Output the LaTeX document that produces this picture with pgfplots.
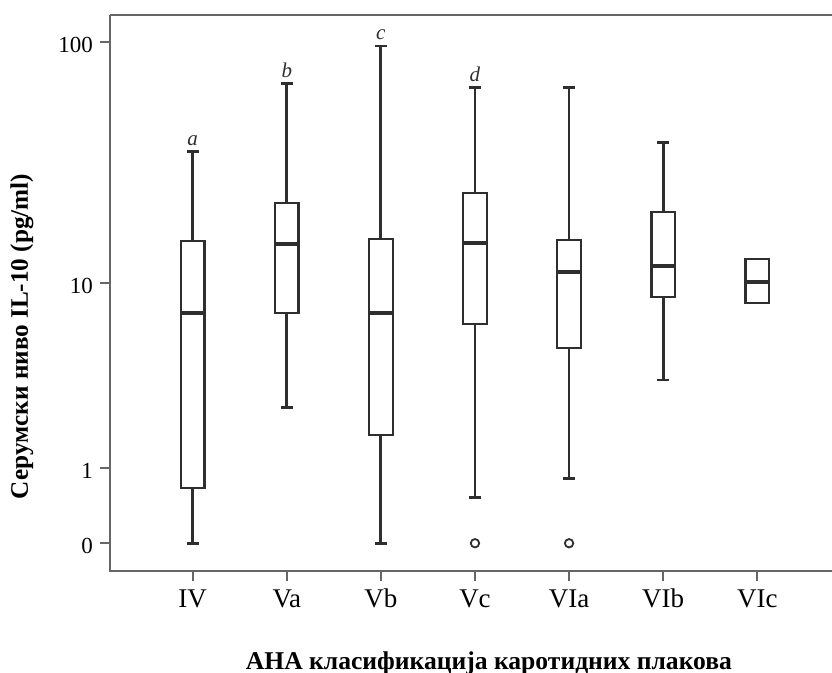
\documentclass[border=0pt]{standalone}
\usepackage{fontspec}
\setmainfont{Liberation Serif}
\usepackage{pgfplots}
\pgfplotsset{compat=1.18}
\usepgfplotslibrary{statistics}
\definecolor{ink}{HTML}{2E2E2E}
\definecolor{framec}{HTML}{666666}
\begin{document}
\begin{tikzpicture}
\begin{axis}[
  at={(0,0)}, anchor=south west,
  scale only axis, width=361pt, height=277.75pt,
  xmin=0.121, xmax=7.794, ymin=-0.111, ymax=2.111,
  axis line style={draw=none},
  xtick={1,2,3,4,5,6,7}, xticklabels={IV,Va,Vb,Vc,VIa,VIb,VIc},
  ytick={0,0.30103,1.04139,2.00432}, yticklabels={0,1,10,100},
  tick align=outside, major tick length=5pt,
  xtick pos=left, ytick pos=left,
  tick style={framec, line width=0.9pt},
  x tick label style={font=\fontsize{13.5}{15}\selectfont, text height=9.5pt, text depth=0pt},
  y tick label style={font=\fontsize{11.5}{13}\selectfont, yshift=-1.5pt},
  boxplot/draw direction=y,
  boxplot/box extend=0.25, boxplot/whisker extend=0.125,
  boxplot/every box/.style={draw=ink, line width=1.1pt, fill=white},
  boxplot/every median/.style={draw=ink, line width=2pt},
  boxplot/every whisker/.style={draw=ink, line width=1.4pt},
  clip=false,
]
\addplot[ink, boxplot prepared={draw position=1, lower whisker=0, lower quartile=0.222, median=0.922, upper quartile=1.210, upper whisker=1.566}] coordinates {};
\addplot[ink, boxplot prepared={draw position=2, lower whisker=0.542, lower quartile=0.920, median=1.196, upper quartile=1.362, upper whisker=1.840}] coordinates {};
\addplot[ink, boxplot prepared={draw position=3, lower whisker=0, lower quartile=0.433, median=0.920, upper quartile=1.217, upper whisker=1.989}] coordinates {};
\addplot[ink, mark=o, mark size=2.1pt, mark options={draw=ink, line width=0.9pt}, boxplot prepared={draw position=4, lower whisker=0.182, lower quartile=0.877, median=1.200, upper quartile=1.400, upper whisker=1.824}] coordinates {(0,0)};
\addplot[ink, mark=o, mark size=2.1pt, mark options={draw=ink, line width=0.9pt}, boxplot prepared={draw position=5, lower whisker=0.260, lower quartile=0.780, median=1.086, upper quartile=1.213, upper whisker=1.824}] coordinates {(0,0)};
\addplot[ink, boxplot prepared={draw position=6, lower whisker=0.653, lower quartile=0.986, median=1.109, upper quartile=1.324, upper whisker=1.602}] coordinates {};
\addplot[ink, boxplot prepared={draw position=7, lower whisker=0.960, lower quartile=0.960, median=1.046, upper quartile=1.136, upper whisker=1.136, every whisker/.style={draw=none}}] coordinates {};
\node[anchor=base, yshift=3pt, font=\itshape\fontsize{10.5}{12}\selectfont, text=ink] at (axis cs:1,1.566) {a};
\node[anchor=base, yshift=3pt, font=\itshape\fontsize{10.5}{12}\selectfont, text=ink] at (axis cs:2,1.840) {b};
\node[anchor=base, yshift=3pt, font=\itshape\fontsize{10.5}{12}\selectfont, text=ink] at (axis cs:3,1.989) {c};
\node[anchor=base, yshift=3pt, font=\itshape\fontsize{10.5}{12}\selectfont, text=ink] at (axis cs:4,1.824) {d};
\end{axis}
\draw[framec, line width=1pt] (0,277.75pt) -- (0,0) -- (362pt,0);
\draw[framec, line width=1pt] (0,277.75pt) -- (362pt,277.75pt);
\node[rotate=90, font=\bfseries\fontsize{12.6}{14}\selectfont] at (-44pt,117.25pt) {Серумски ниво IL-10 (pg/ml)};
\node[font=\bfseries\fontsize{12.8}{14}\selectfont] at (189.5pt,-46pt) {АНА класификација каротидних плакова};
\pgfresetboundingbox
\path[use as bounding box] (-55pt,-51pt) rectangle (361pt,285.5pt);
\end{tikzpicture}
\end{document}
